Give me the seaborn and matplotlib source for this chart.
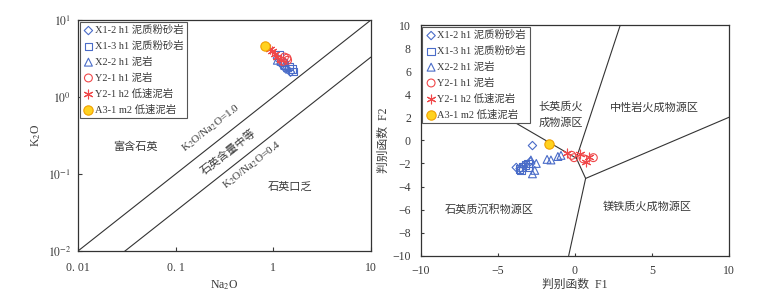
import warnings
import numpy as np
import pandas as pd
import matplotlib
matplotlib.use("Agg")
import matplotlib.pyplot as plt
import seaborn as sns

warnings.filterwarnings("ignore")

# Series names and styles
series_names = ["X1-2 h1 泥质粉砂岩", "X1-3 h1 泥质粉砂岩", "X2-2 h1 泥岩",
                "Y2-1 h1 泥岩", "Y2-1 h2 低速泥岩", "A3-1 m2 低速泥岩"]

# Left panel: Na2O vs K2O (log-log)
na2o_x12 = [1.10, 1.20, 1.35, 1.50]
k2o_x12 = [3.20, 2.70, 2.30, 2.10]
na2o_x13 = [1.15, 1.30, 1.25, 1.45, 1.55, 1.60]
k2o_x13 = [3.50, 2.60, 2.80, 2.50, 2.30, 2.15]
na2o_x22 = [1.10, 1.20, 1.30, 1.40]
k2o_x22 = [3.00, 2.90, 2.60, 2.40]
na2o_y21h1 = [1.25, 1.30, 1.38, 1.40]
k2o_y21h1 = [2.90, 3.30, 3.20, 3.00]
na2o_y21h2 = [0.92, 0.98, 1.05, 1.10, 1.20]
k2o_y21h2 = [4.20, 3.90, 3.60, 3.30, 3.00]
na2o_a31 = [0.83]
k2o_a31 = [4.60]

# Right panel: discriminant functions F1 / F2
f1_x12 = [-2.75, -3.80, -2.90, -3.30, -3.55]
f2_x12 = [-0.45, -2.35, -1.85, -2.20, -2.45]
f1_x13 = [-3.60, -3.40, -3.20, -3.05, -3.50, -3.00]
f2_x13 = [-2.50, -2.30, -2.15, -2.00, -2.60, -2.30]
f1_x22 = [-2.85, -2.50, -2.60, -2.75, -1.80, -1.55, -1.10, -0.90]
f2_x22 = [-1.70, -2.00, -2.60, -2.90, -1.65, -1.70, -1.40, -1.30]
f1_y21h1 = [-0.20, -0.05, 0.55, 1.20]
f2_y21h1 = [-1.30, -1.50, -1.60, -1.50]
f1_y21h2 = [-0.50, 0.35, 0.70, 0.90]
f2_y21h2 = [-1.10, -1.15, -1.85, -1.40]
f1_a31 = [-1.70]
f2_a31 = [-0.35]

# Field boundaries (F1 pair, F2 pair)
bound_segments = [
    ((-10.0, 0.10), (6.3, -1.55)),
    ((2.95, 0.10), (10.0, -1.55)),
    ((0.10, 0.70), (-1.55, -3.30)),
    ((0.70, -0.40), (-3.30, -10.0)),
    ((0.70, 10.0), (-3.30, 2.00)),
]
ratio_lines = [1.0, 0.33]

BLUE = "#4a6cc8"
RED = "#f0484a"
styles = [
    dict(marker="D", s=18, facecolor="none", edgecolor=BLUE, color=BLUE, linewidth=0.8),
    dict(marker="s", s=30, facecolor="none", edgecolor=BLUE, color=BLUE, linewidth=0.8),
    dict(marker="^", s=32, facecolor="none", edgecolor=BLUE, color=BLUE, linewidth=0.8),
    dict(marker="o", s=32, facecolor="none", edgecolor=RED, color=RED, linewidth=0.8),
    dict(marker=(6, 2, 0), s=40, color=RED, linewidth=0.8),
    dict(marker="o", s=45, facecolor="#ffd21f", edgecolor="#f0a000", color="#ffd21f", linewidth=0.8),
]

sns.set_style("ticks")
plt.rcParams["font.family"] = ["Liberation Serif", "Noto Sans CJK SC", "DejaVu Sans"]
plt.rcParams["mathtext.fontset"] = "stix"
plt.rcParams["axes.unicode_minus"] = True

fig = plt.figure(figsize=(7.58, 2.97), dpi=100)
ax1 = fig.add_axes([0.1029, 0.1549, 0.3865, 0.7778])
ax2 = fig.add_axes([0.5550, 0.1390, 0.4067, 0.7768])

TEXT = "#3a3a3a"


def make_df(xs, ys):
    rows = []
    for name, x, y in zip(series_names, xs, ys):
        for a, b in zip(x, y):
            rows.append({"series": name, "x": a, "y": b})
    return pd.DataFrame(rows)


def draw_points(ax, df):
    for name, st in zip(series_names, styles):
        sub = df[df["series"] == name]
        kw = dict(st)
        if not isinstance(kw["marker"], str):
            kw.pop("edgecolor", None)
        sns.scatterplot(data=sub, x="x", y="y", ax=ax, label=name, zorder=3, **kw)


def style_legend(ax):
    leg = ax.legend(loc="upper left", fontsize=7.5, frameon=True, fancybox=False,
                    edgecolor="#555555", framealpha=1, borderpad=0.35,
                    labelspacing=0.55, handletextpad=0.1, handlelength=1.0,
                    borderaxespad=0.15)
    leg.get_frame().set_linewidth(0.8)
    for t in leg.get_texts():
        t.set_color(TEXT)
    leg.set_zorder(5)


# ---- left panel ----
df_left = make_df([na2o_x12, na2o_x13, na2o_x22, na2o_y21h1, na2o_y21h2, na2o_a31],
                  [k2o_x12, k2o_x13, k2o_x22, k2o_y21h1, k2o_y21h2, k2o_a31])
xs = np.array([0.01, 10.0])
for r in ratio_lines:
    ax1.plot(xs, r * xs, color="#333333", lw=0.8, zorder=2)
draw_points(ax1, df_left)
ax1.set_xscale("log")
ax1.set_yscale("log")
ax1.set_xlim(0.01, 10)
ax1.set_ylim(0.01, 10)
ax1.set_xticks([0.01, 0.1, 1, 10])
ax1.set_xticklabels(["0. 01", "0. 1", "1", "10"])
ax1.set_yticks([0.01, 0.1, 1, 10])
ax1.set_yticklabels([r"$10^{-2}$", r"$10^{-1}$", r"$10^{0}$", r"$10^{1}$"])
ax1.minorticks_off()
ax1.tick_params(axis="x", direction="in", length=3, pad=8, labelsize=8.5, colors=TEXT)
ax1.tick_params(axis="y", direction="in", length=3, pad=5, labelsize=8.5, colors=TEXT)
ax1.set_xlabel("Na$_2$O", fontsize=8.5, color=TEXT, labelpad=3)
ax1.set_ylabel("K$_2$O", fontsize=8.5, color=TEXT, labelpad=3)
ax1.text(0.0383, 0.224, "富含石英", fontsize=8, color=TEXT, ha="center", va="center")
ax1.text(0.23, 0.395, "K$_2$O/Na$_2$O=1.0", fontsize=8, color=TEXT, ha="center",
         va="center", rotation=38)
ax1.text(0.343, 0.193, "石英含量中等", fontsize=8, color=TEXT, ha="center",
         va="center", rotation=38)
ax1.text(0.604, 0.131, "K$_2$O/Na$_2$O=0.4", fontsize=8, color=TEXT, ha="center",
         va="center", rotation=38)
ax1.text(1.48, 0.0684, "石英口乏", fontsize=8, color=TEXT, ha="center", va="center")
style_legend(ax1)

# ---- right panel ----
df_right = make_df([f1_x12, f1_x13, f1_x22, f1_y21h1, f1_y21h2, f1_a31],
                   [f2_x12, f2_x13, f2_x22, f2_y21h1, f2_y21h2, f2_a31])
for bx, by in bound_segments:
    ax2.plot(bx, by, color="#333333", lw=0.8, zorder=2)
draw_points(ax2, df_right)
ax2.set_xlim(-10, 10)
ax2.set_ylim(-10, 10)
ax2.set_xticks([-10, -5, 0, 5, 10])
ax2.set_yticks(np.arange(-10, 11, 2))
ax2.tick_params(axis="x", direction="in", length=2, pad=7, labelsize=8.5, colors=TEXT)
ax2.tick_params(axis="y", direction="in", length=2, pad=7, labelsize=8.5, colors=TEXT)
ax2.set_xlabel("判别函数  F1", fontsize=8.5, color=TEXT, labelpad=1)
ax2.set_ylabel("判别函数  F2", fontsize=8.5, color=TEXT, labelpad=2)
ax2.text(-0.91, 2.22, "长英质火\n成物源区", fontsize=8, color=TEXT, ha="center",
         va="center", linespacing=1.7)
ax2.text(5.15, 2.86, "中性岩火成物源区", fontsize=8, color=TEXT, ha="center", va="center")
ax2.text(-5.56, -5.96, "石英质沉积物源区", fontsize=8, color=TEXT, ha="center", va="center")
ax2.text(4.72, -5.7, "镁铁质火成物源区", fontsize=8, color=TEXT, ha="center", va="center")
style_legend(ax2)

for ax in (ax1, ax2):
    for sp in ax.spines.values():
        sp.set_visible(True)
        sp.set_color("#333333")
        sp.set_linewidth(0.9)

fig.savefig("out.png", dpi=100)
